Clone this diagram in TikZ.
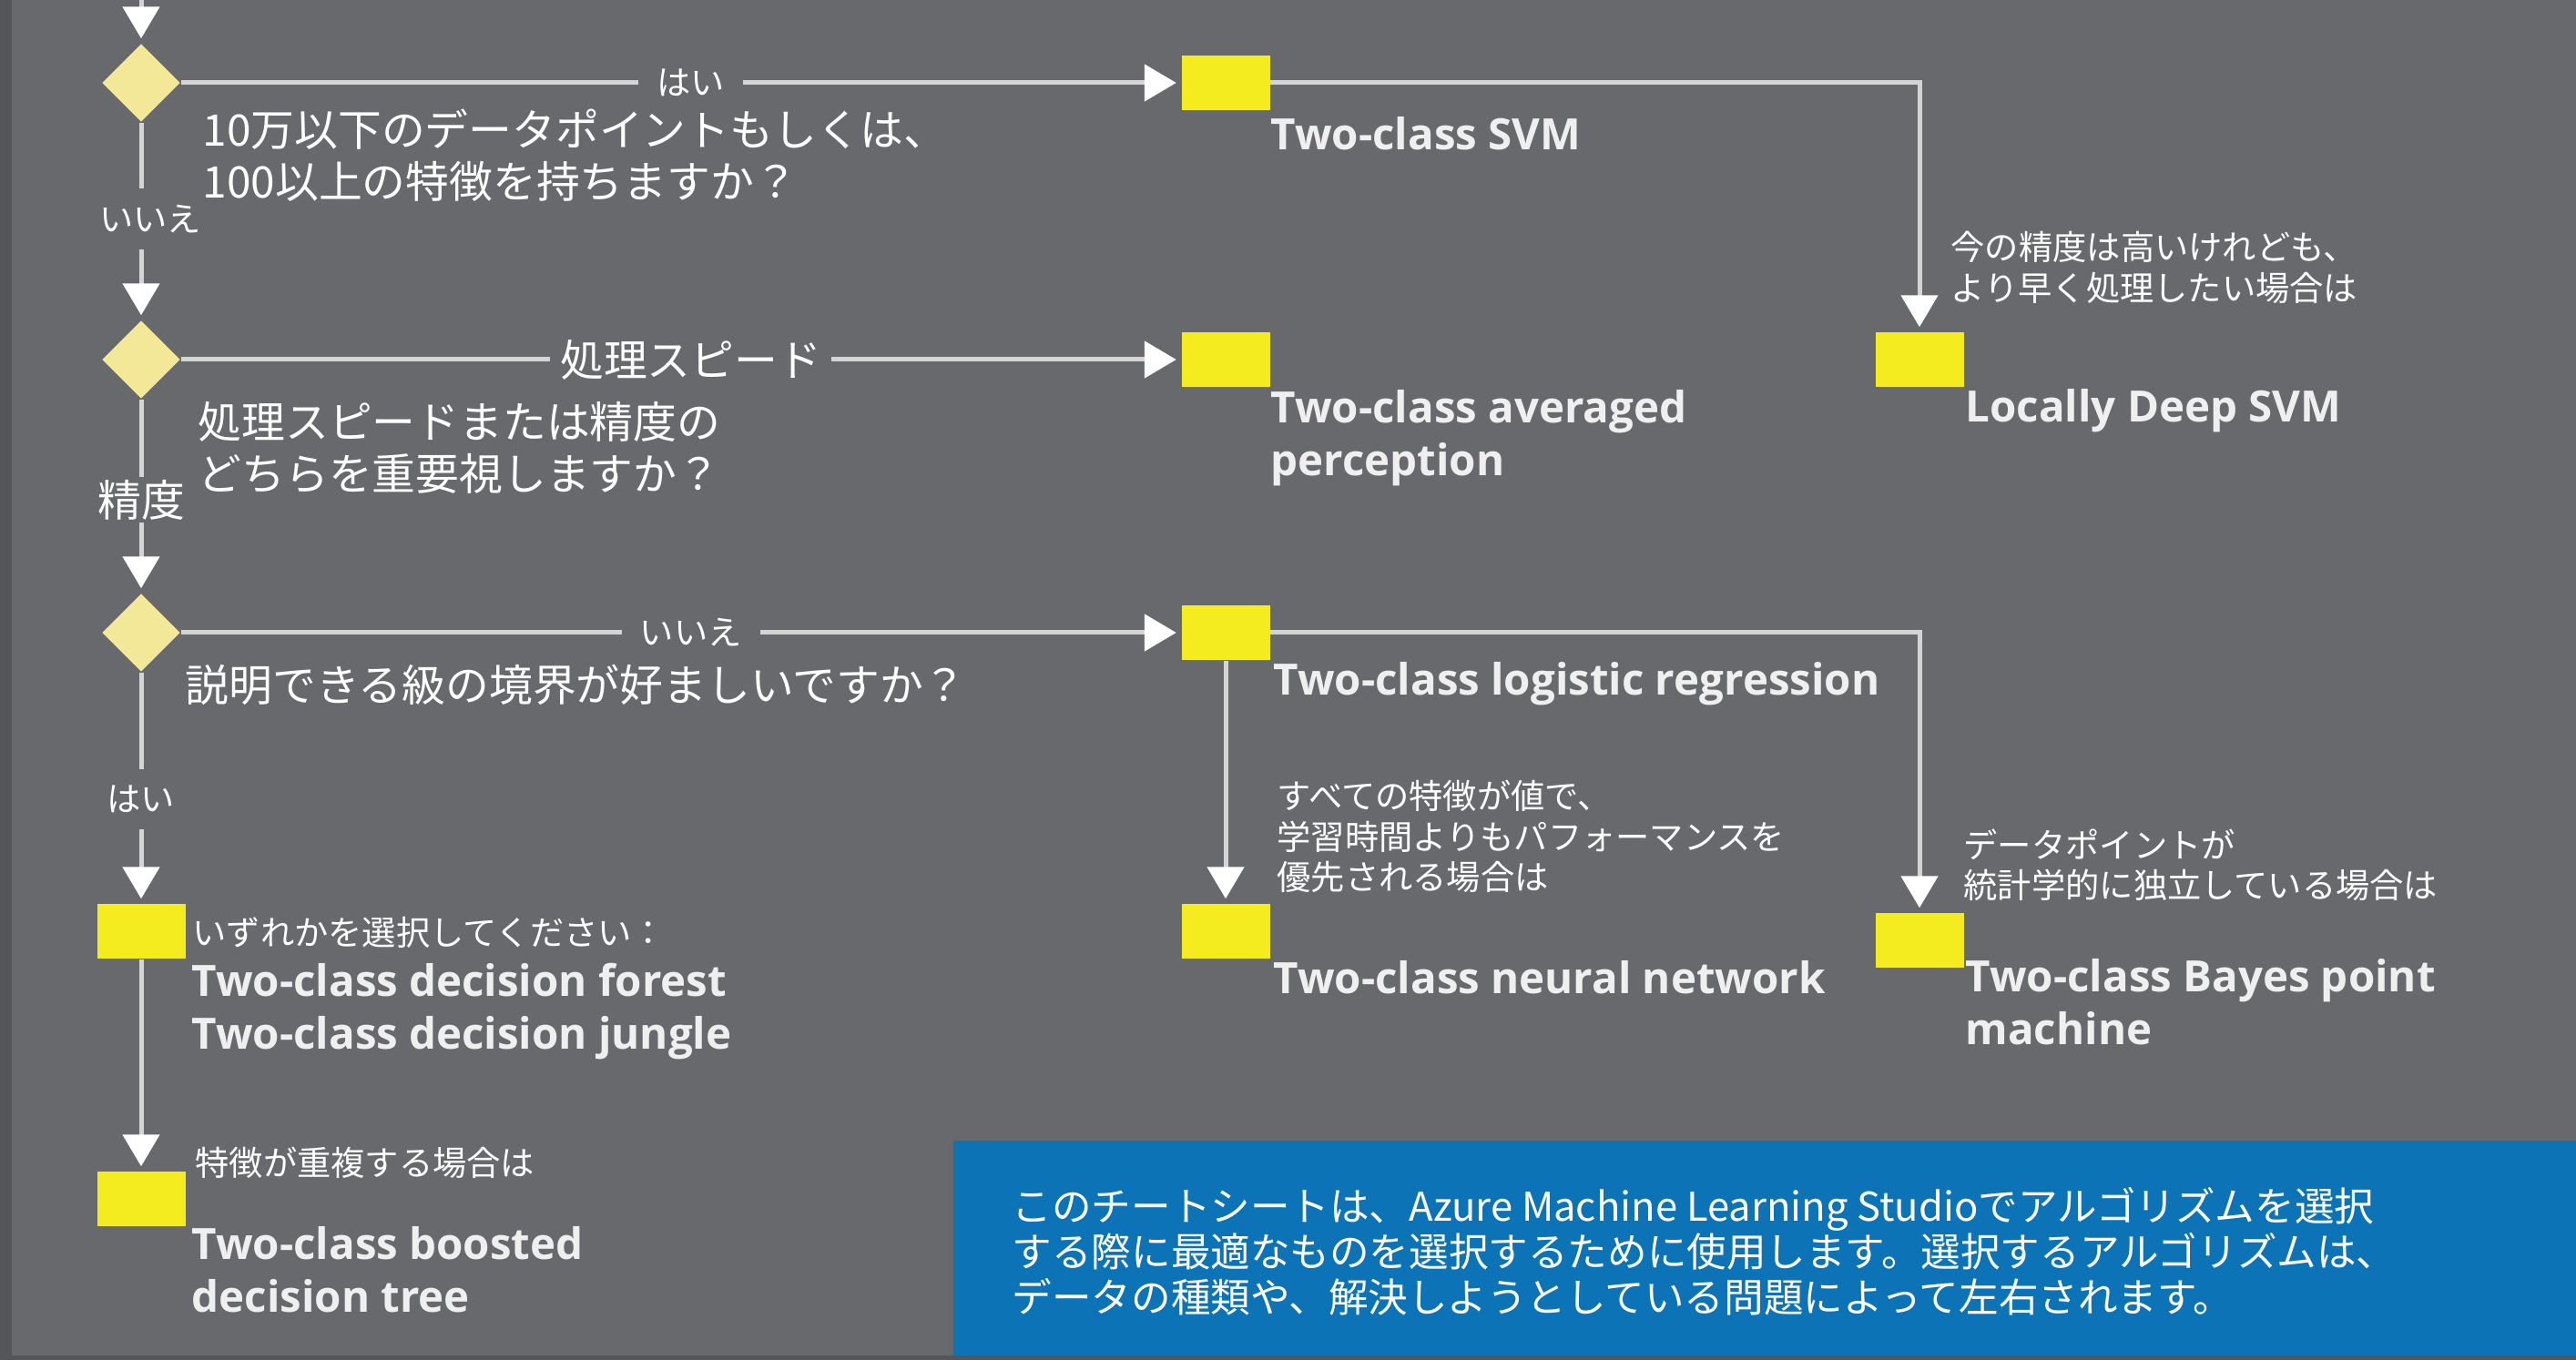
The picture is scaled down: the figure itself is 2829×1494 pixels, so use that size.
\documentclass[tikz,border=0pt]{standalone}
\usepackage{fontspec}
\setmainfont{Open Sans}
\newfontfamily\jpfont{Noto Sans CJK JP}
\usepackage{tikz}
\usetikzlibrary{arrows.meta,shapes.geometric}

\definecolor{bgcol}{HTML}{68696D}
\definecolor{edgecol}{HTML}{555659}
\definecolor{askfill}{HTML}{F2E897}
\definecolor{algofill}{HTML}{F5EC1F}
\definecolor{linecol}{HTML}{D4D4D4}
\definecolor{algotext}{HTML}{EFEFEF}
\definecolor{notefill}{HTML}{0B73B6}

\newcommand\bigjp{\jpfont\fontsize{13.6pt}{16.2pt}\selectfont}
\newcommand\smalljp{\jpfont\fontsize{10.6pt}{12.6pt}\selectfont}
\newcommand\notejp{\jpfont\fontsize{12.4pt}{14.2pt}\selectfont}
\newcommand\algofont{\fontsize{13.5pt}{16.5pt}\selectfont\bfseries}

\begin{document}
\begin{tikzpicture}[x=0.1mm, y=-0.1mm]
\tikzstyle{ask}=[diamond, fill=askfill, minimum width=8.6mm, minimum height=8.6mm, inner sep=0pt]
\tikzstyle{algo}=[rectangle, fill=algofill, minimum width=9.7mm, minimum height=6mm, inner sep=0pt]
\tikzstyle{link}=[draw=linecol, line width=0.5mm, -{Triangle[length=3.5mm,width=4mm,color=white]}, shorten >=0.5mm]
\tikzstyle{lbl}=[fill=bgcol, text=white, inner xsep=2mm, inner ysep=1.8mm]
\tikzstyle{vlbl}=[lbl, inner xsep=0pt]
\tikzstyle{algoname}=[text=algotext, font=\algofont, inner sep=0pt, align=left]
\tikzstyle{qtext}=[text=white, font=\bigjp, inner sep=0pt, align=left]
\tikzstyle{cond}=[text=white, font=\smalljp, inner sep=0pt, align=left]

% background
\fill[bgcol] (0,0) rectangle (2829,1494);
\useasboundingbox (0,0) rectangle (2829,1494);
\fill[edgecol] (0,0) rectangle (13,1494);
\fill[edgecol] (0,1489) rectangle (2829,1494);
\fill[notefill] (1047,1253) rectangle (2829,1489);

% questions
\coordinate (top) at (155,0);
\node[ask] (q1) at (155,91) {};
\node[ask] (q2) [below of=q1, node distance=30.4mm] {};
\node[ask] (q3) [below of=q2, node distance=30mm] {};

% algorithms
\node[algo] (svm) [right of=q1, node distance=119.1mm] {};
\node[algo] (avg) [right of=q2, node distance=119.1mm] {};
\node[algo] (logreg) [right of=q3, node distance=119.1mm] {};
\node[algo] (ldsvm) [right of=avg, node distance=76.2mm] {};
\node[algo] (nn) [below of=logreg, node distance=32.8mm] {};
\node[algo] (bayes) at (2108,1033) {};
\node[algo] (forest) [below of=q3, node distance=32.8mm] {};
\node[algo] (boosted) [below of=forest, node distance=29.4mm] {};

% texts
\node[qtext, anchor=west] (t1) at (222,171) {10万以下のデータポイントもしくは、\\100以上の特徴を持ちますか？};
\node[qtext, anchor=west] (t2) at (217,492) {処理スピードまたは精度の\\どちらを重要視しますか？};
\node[qtext, anchor=west] (t3) at (203,752) {説明できる級の境界が好ましいですか？};

\node[algoname, anchor=base west] (tsvm) at (1395,165) {Two-class SVM};
\node[algoname, anchor=west] (tavg) at (1395,481) {Two-class averaged\\perception};
\node[algoname, anchor=base west] (tld) at (2158,463) {Locally Deep SVM};
\node[algoname, anchor=base west] (tlog) at (1398,763) {Two-class logistic regression};
\node[algoname, anchor=base west] (tnn) at (1398,1091) {Two-class neural network};
\node[algoname, anchor=west] (tbayes) at (2158,1101) {Two-class Bayes point\\machine};
\node[algoname, anchor=west] (tforest) at (210,1111) {Two-class decision forest\\Two-class decision jungle};
\node[algoname, anchor=west] (tboost) at (210,1395) {Two-class boosted\\decision tree};

\node[cond, anchor=west] (cld) at (2142,294) {今の精度は高いけれども、\\より早く処理したい場合は};
\node[cond, anchor=west] (cnn) at (1402,919) {すべての特徴が値で、\\学習時間よりもパフォーマンスを\\優先される場合は};
\node[cond, anchor=west] (cbayes) at (2156,950) {データポイントが\\統計学的に独立している場合は};
\node[cond, anchor=west] (cforest) at (211,1024) {いずれかを選択してください：};
\node[cond, anchor=west] (cboost) at (214,1277) {特徴が重複する場合は};

\node[anchor=west, text=white, font=\notejp, align=left, inner sep=0pt] (note) at (1111,1375)
  {このチートシートは、Azure Machine Learning Studioでアルゴリズムを選択\\する際に最適なものを選択するために使用します。選択するアルゴリズムは、\\データの種類や、解決しようとしている問題によって左右されます。};

% connectors
\draw[link] (top) -- (q1.north);
\path[link]
(q1) edge node[lbl, pos=0.51, font=\smalljp] {はい} (svm)
     edge node[vlbl, pos=0.49, font=\smalljp, xshift=1mm] {いいえ} (q2)
(q2) edge node[lbl, pos=0.51, font=\bigjp, inner xsep=1.1mm] {処理スピード} (avg)
     edge node[vlbl, pos=0.52, font=\bigjp, inner ysep=0.3mm] {精度} (q3)
(q3) edge node[lbl, pos=0.51, font=\smalljp] {いいえ} (logreg)
     edge node[vlbl, pos=0.55, font=\smalljp] {はい} (forest)
(forest) edge (boosted)
(logreg) edge (nn);
\draw[link] (svm) -| (ldsvm);
\draw[link] (logreg) -| (bayes);
\end{tikzpicture}
\end{document}
